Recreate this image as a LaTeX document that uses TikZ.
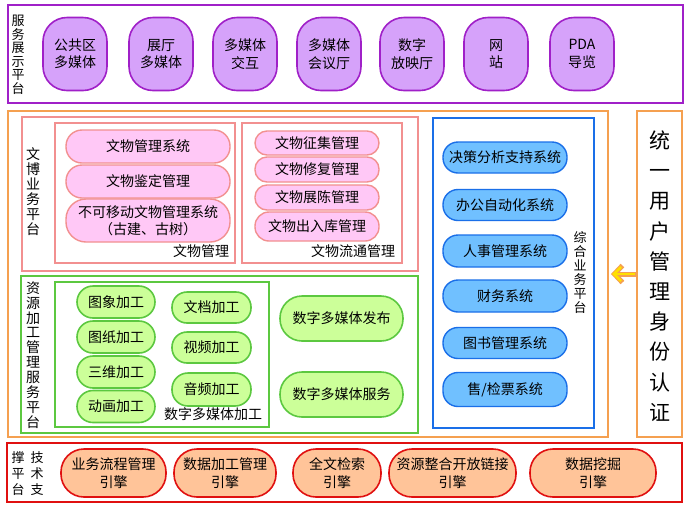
\documentclass[tikz,border=0pt]{standalone}
\usepackage{fontspec}
\setmainfont{Noto Sans CJK SC}
\usetikzlibrary{arrows.meta}
\definecolor{pbord}{HTML}{A020C8}
\definecolor{pfill}{HTML}{D6A2FA}
\definecolor{orng}{HTML}{F5A050}
\definecolor{kbord}{HTML}{F29090}
\definecolor{kfill}{HTML}{FFC8F6}
\definecolor{gbord}{HTML}{5CC840}
\definecolor{gfill}{HTML}{CCFF99}
\definecolor{bbord}{HTML}{1A6FE8}
\definecolor{bfill}{HTML}{70C0FF}
\definecolor{rbord}{HTML}{E01010}
\definecolor{rfill}{HTML}{FFC499}
\definecolor{arrowy}{HTML}{FFE000}
\begin{document}
\begin{tikzpicture}[x=1pt,y=-1pt,
  sz/.style 2 args={minimum width=#1pt, minimum height=#2pt},
  frame/.style={draw, line width=2pt, inner sep=0pt},
  thinframe/.style={draw, line width=1.6pt, inner sep=0pt},
  txt/.style={font=\fontsize{14}{17}\selectfont, align=center, inner sep=0pt},
  txttwo/.style={font=\fontsize{14}{17.5}\selectfont, align=center, inner sep=0pt},
  purplebox/.style={txttwo, draw=pbord, fill=pfill, line width=1.6pt, rounded corners=24pt},
  pinkpill/.style={txt, draw=kbord, fill=kfill, line width=1.4pt, rounded corners=#1pt},
  greenpill/.style={txt, draw=gbord, fill=gfill, line width=1.6pt, rounded corners=#1pt},
  bluepill/.style={txt, draw=bbord, fill=bfill, line width=1.4pt, rounded corners=15pt},
  redpill/.style={txttwo, draw=rbord, fill=rfill, line width=1.6pt, rounded corners=23pt},
  vlab/.style 2 args={align=center, inner sep=0pt, font=\fontsize{#1}{#2}\selectfont},
]
\useasboundingbox (0,0) rectangle (692,507);
\fill[white] (0,0) rectangle (692,507);

% ---------- service display platform ----------
\node[frame, draw=pbord, sz={675}{98}] (svc) at (345.5,54) {};
\node[vlab={13}{13.5}] (svclab) at (18,55) {服\\务\\展\\示\\平\\台};
\node[purplebox, sz={64}{73}] (s1) at (75,54) {公共区\\多媒体};
\node[purplebox, sz={64}{73}] (s2) at (161,54) {展厅\\多媒体};
\node[purplebox, sz={64}{73}] (s3) at (245,54) {多媒体\\交互};
\node[purplebox, sz={64}{73}] (s4) at (329,54) {多媒体\\会议厅};
\node[purplebox, sz={64}{73}] (s5) at (412,54) {数字\\放映厅};
\node[purplebox, sz={64}{73}] (s6) at (496,54) {网\\站};
\node[purplebox, sz={64}{73}] (s7) at (582,54) {PDA\\导览};

% ---------- orange frames ----------
\node[frame, draw=orng, sz={600}{326}] (plat) at (308,274) {};
\node[frame, draw=orng, sz={45}{326}] (auth) at (659.5,274) {};
\node[vlab={21}{30.2}] (authlab) at (660,276) {统\\一\\用\\户\\管\\理\\身\\份\\认\\证};

% ---------- cultural relics business platform ----------
\node[frame, draw=kbord, sz={396}{154}] (wb) at (220,194) {};
\node[vlab={14}{15}] (wblab) at (33,192) {文\\博\\业\\务\\平\\台};
\node[thinframe, draw=kbord, sz={180}{140}] (wb1) at (145,193) {};
\node[thinframe, draw=kbord, sz={160}{140}] (wb2) at (322,193) {};
\node[pinkpill=16, sz={164}{33}] (k1) at (148,146.5) {文物管理系统};
\node[pinkpill=16, sz={164}{33}] (k2) at (148,181.5) {文物鉴定管理};
\node[pinkpill=20, sz={164}{43}] (k3) at (148,220.5) {不可移动文物管理系统\\（古建、古树）};
\node[txt] (wb1lab) at (201,251) {文物管理};
\node[pinkpill=12, sz={124}{24}] (k4) at (317,143) {文物征集管理};
\node[pinkpill=12, sz={124}{25}] (k5) at (317,169.5) {文物修复管理};
\node[pinkpill=12, sz={124}{25}] (k6) at (317,197.5) {文物展陈管理};
\node[pinkpill=14, sz={124}{29}] (k7) at (317,226.5) {文物出入库管理};
\node[txt] (wb2lab) at (353,251) {文物流通管理};

% ---------- resource processing platform ----------
\node[frame, draw=gbord, sz={397}{157}] (rs) at (219.5,354.5) {};
\node[vlab={14}{14.9}] (rslab) at (33,355) {资\\源\\加\\工\\管\\理\\服\\务\\平\\台};
\node[thinframe, draw=gbord, sz={214}{145}] (rs1) at (162,354.5) {};
\node[greenpill=16, sz={78}{32}] (g1) at (116,302) {图象加工};
\node[greenpill=16, sz={78}{32}] (g2) at (116,337) {图纸加工};
\node[greenpill=16, sz={78}{32}] (g3) at (116,372) {三维加工};
\node[greenpill=16, sz={78}{32}] (g4) at (116,406.5) {动画加工};
\node[greenpill=15, sz={79}{31}] (g5) at (211.5,307.5) {文档加工};
\node[greenpill=15, sz={79}{31}] (g6) at (211.5,347.5) {视频加工};
\node[greenpill=16, sz={79}{33}] (g7) at (211.5,389.5) {音频加工};
\node[txt] (rs1lab) at (213,414) {数字多媒体加工};
\node[greenpill=22, sz={123}{45}] (g8) at (341.5,318.5) {数字多媒体发布};
\node[greenpill=22, sz={123}{45}] (g9) at (341.5,394.5) {数字多媒体服务};

% ---------- integrated business platform ----------
\node[frame, draw=bbord, sz={161}{310}] (zh) at (513.5,273) {};
\node[vlab={13}{14}] (zhlab) at (580,273) {综\\合\\业\\务\\平\\台};
\node[bluepill, sz={124}{31}] (b1) at (505,157.5) {决策分析支持系统};
\node[bluepill, sz={124}{31}] (b2) at (505,205) {办公自动化系统};
\node[bluepill, sz={124}{32}] (b3) at (505,251) {人事管理系统};
\node[bluepill, sz={124}{32}] (b4) at (505,296) {财务系统};
\node[bluepill, sz={124}{31}] (b5) at (505,343) {图书管理系统};
\node[bluepill, sz={124}{34}] (b6) at (505,389.5) {售/检票系统};

% ---------- arrow ----------
\draw[orng, line width=5pt, -{Straight Barb[length=8pt,width=17pt]}] (auth.west) -- ([xshift=2pt]plat.east);
\draw[arrowy, line width=2.6pt, -{Straight Barb[length=7pt,width=14pt]}] ([xshift=-1pt]auth.west) -- ([xshift=3.2pt]plat.east);

% ---------- technical support platform ----------
\node[frame, draw=rbord, sz={675}{59}] (tech) at (344.5,472.5) {};
\node[vlab={13}{16}] (techlab1) at (18,474) {撑\\平\\台};
\node[vlab={13}{16}] (techlab2) at (37,474) {技\\术\\支};
\node[redpill, sz={105}{48}] (r1) at (113.5,473) {业务流程管理\\引擎};
\node[redpill, sz={102}{48}] (r2) at (225,473) {数据加工管理\\引擎};
\node[redpill, sz={88}{48}] (r3) at (337,473) {全文检索\\引擎};
\node[redpill, sz={127}{48}] (r4) at (452.5,473) {资源整合开放链接\\引擎};
\node[redpill, sz={126}{48}] (r5) at (593,473) {数据挖掘\\引擎};
\end{tikzpicture}
\end{document}
